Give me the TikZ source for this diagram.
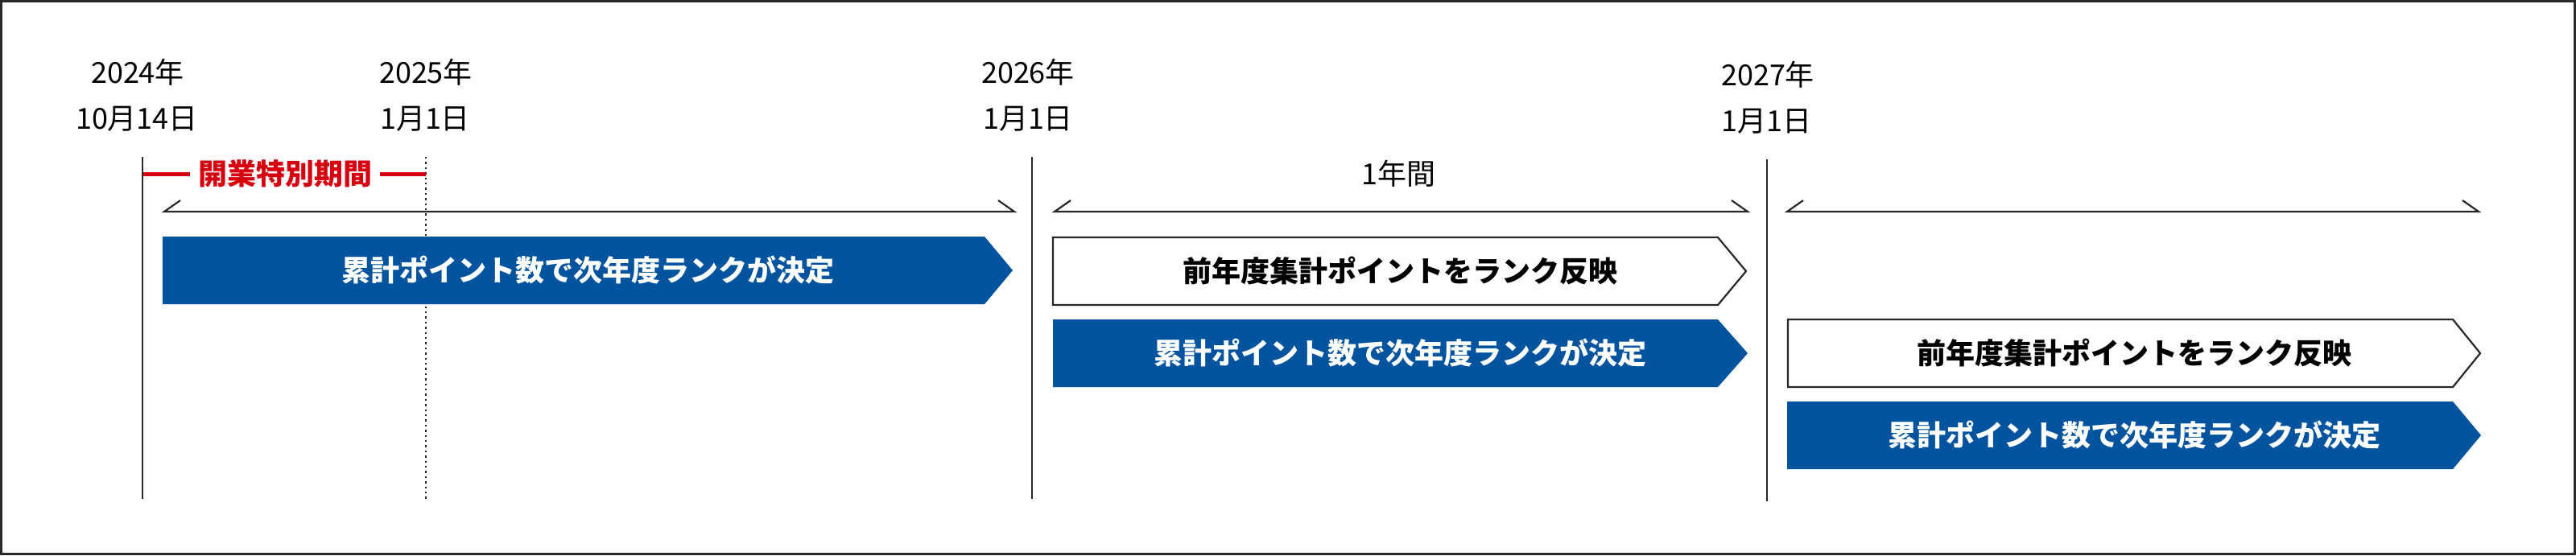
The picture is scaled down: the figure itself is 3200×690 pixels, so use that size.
\documentclass[tikz,border=0pt]{standalone}
\usepackage{fontspec}
\setmainfont{Noto Sans CJK JP}
\definecolor{rblue}{RGB}{0,83,158}
\definecolor{rred}{RGB}{215,0,15}
\definecolor{rline}{RGB}{40,40,40}
\begin{document}
\begin{tikzpicture}[x=0.25pt,y=-0.25pt,
  lbl/.style={font=\fontsize{9pt}{11pt}\selectfont, text=black, inner sep=0pt, anchor=center},
  boldlbl/.style={lbl, font=\fontsize{9pt}{11pt}\selectfont\bfseries},
  vline/.style={draw=rline, line width=0.5pt},
  dotline/.style={draw=rline, line width=0.4pt, dash pattern=on 0.6pt off 1pt},
  bracketline/.style={draw=rline, line width=0.55pt},
  bluearrow/.style={fill=rblue, draw=none},
  whitearrow/.style={fill=white, draw=rline, line width=0.55pt},
  redline/.style={draw=rred, line width=1.1pt}
]
\useasboundingbox (0,0) rectangle (3200,690);
\draw[draw=rline, line width=0.8pt] (1.6,1.6) rectangle (3198.4,688.4);

% date labels
\node[lbl] (y24) at (171,90) {2024年};
\node[lbl] (d24) at (170,148) {10月14日};
\node[lbl] (y25) at (529,90) {2025年};
\node[lbl] (d25) at (528,148) {1月1日};
\node[lbl] (y26) at (1277,90) {2026年};
\node[lbl] (d26) at (1277,148) {1月1日};
\node[lbl] (y27) at (2196,93) {2027年};
\node[lbl] (d27) at (2194,151) {1月1日};

% vertical lines
\coordinate (v1t) at (177,195); \coordinate (v1b) at (177,620);
\coordinate (v2t) at (529,195); \coordinate (v2b) at (529,620);
\coordinate (v3t) at (1282,195); \coordinate (v3b) at (1282,620);
\coordinate (v4t) at (2195,198); \coordinate (v4b) at (2195,623);
\draw[vline] (v1t) -- (v1b);
\draw[dotline] (v2t) -- (v2b);
\draw[vline] (v3t) -- (v3b);
\draw[vline] (v4t) -- (v4b);

% opening special period
\node[boldlbl, text=rred] (open) at (354,216) {開業特別期間};
\coordinate (r1) at (178,216.5); \coordinate (r2) at (236,216.5);
\coordinate (r3) at (472,216.5); \coordinate (r4) at (529,216.5);
\draw[redline] (r1) -- (r2);
\draw[redline] (r3) -- (r4);

% 1 year label
\node[lbl] (oneyear) at (1737,216) {1年間};

% brackets
\coordinate (b1l) at (204,263); \coordinate (b1r) at (1260,263);
\coordinate (b2l) at (1310,263); \coordinate (b2r) at (2171,263);
\coordinate (b3l) at (2220,263); \coordinate (b3r) at (3079,263);
\draw[bracketline] ([shift={(20,-14)}]b1l) -- (b1l) -- (b1r) -- ([shift={(-20,-14)}]b1r);
\draw[bracketline] ([shift={(20,-14)}]b2l) -- (b2l) -- (b2r) -- ([shift={(-20,-14)}]b2r);
\draw[bracketline] ([shift={(20,-14)}]b3l) -- (b3l) -- (b3r) -- ([shift={(-20,-14)}]b3r);

% arrows
\draw[bluearrow] (202,294) -- (1223,294) -- (1258,336) -- (1223,378) -- (202,378) -- cycle;
\node[boldlbl, text=white] (a1) at (730,336) {累計ポイント数で次年度ランクが決定};

\draw[whitearrow] (1308,295) -- (2134,295) -- (2169,337) -- (2134,379) -- (1308,379) -- cycle;
\node[boldlbl] (a2) at (1739,337) {前年度集計ポイントをランク反映};

\draw[bluearrow] (1308,397) -- (2134,397) -- (2171,439) -- (2134,481) -- (1308,481) -- cycle;
\node[boldlbl, text=white] (a3) at (1739,439) {累計ポイント数で次年度ランクが決定};

\draw[whitearrow] (2221,397) -- (3047,397) -- (3081,439) -- (3047,481) -- (2221,481) -- cycle;
\node[boldlbl] (a4) at (2651,439) {前年度集計ポイントをランク反映};

\draw[bluearrow] (2220,499) -- (3047,499) -- (3082,541) -- (3047,583) -- (2220,583) -- cycle;
\node[boldlbl, text=white] (a5) at (2651,541) {累計ポイント数で次年度ランクが決定};
\end{tikzpicture}
\end{document}
